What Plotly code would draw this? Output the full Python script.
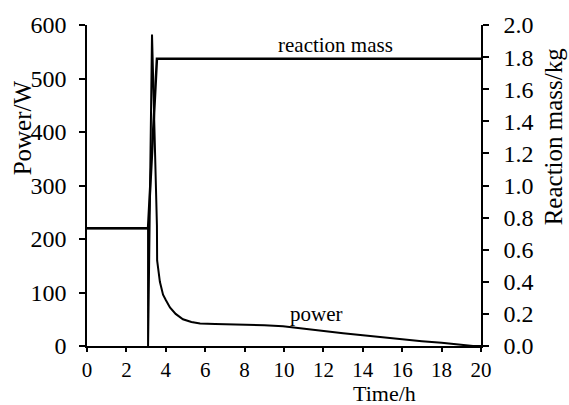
import plotly.graph_objects as go

# Power trace (W) vs time (h)
power_t = [0, 3.1, 3.1, 3.3, 3.55, 3.56, 3.7, 3.86, 4.0, 4.21, 4.5, 4.87, 5.3, 5.74, 6.5, 8.0, 9.0, 9.95, 11.0, 12.0, 13.0, 14.0, 15.0, 16.0, 17.0, 18.0, 19.0, 19.6, 20.0]
power_w = [220, 220, 0, 582, 225, 160, 120, 96, 86, 72, 60, 50, 45, 42, 41, 40, 39, 37, 33, 28, 24, 20, 16, 13, 9, 6, 2, 0, 0]

# Reaction mass (kg) vs time (h)
mass_t = [0, 3.1, 3.55, 20]
mass_kg = [0.733, 0.733, 1.79, 1.79]

x_ticks = list(range(0, 21, 2))
y1_ticks = list(range(0, 601, 100))
y2_ticks = [round(0.2 * i, 1) for i in range(11)]

font_family = "Liberation Serif"

fig = go.Figure()
fig.add_trace(go.Scatter(x=power_t, y=power_w, mode="lines",
                         line=dict(color="black", width=2), yaxis="y", showlegend=False))
fig.add_trace(go.Scatter(x=mass_t, y=mass_kg, mode="lines",
                         line=dict(color="black", width=2.5), yaxis="y2", showlegend=False))

L, R, T, B = 87, 88, 23, 59
W, H = 569, 405
pw, ph = W - L - R, H - T - B

def px(x):
    return (x - L) / pw

def py(y):
    return (H - B - y) / ph

axis_common = dict(showline=True, linecolor="black", linewidth=1.5, ticks="outside",
                   tickwidth=1.5, tickcolor="black", showgrid=False, zeroline=False)

def tickfont(size):
    return dict(family=font_family, size=size, color="black")

def label(text, x, y, size, angle=0):
    return dict(text=text, x=px(x), y=py(y), xref="paper", yref="paper",
                xanchor="center", yanchor="middle", showarrow=False,
                textangle=angle, font=dict(size=size))

fig.update_layout(
    width=W, height=H,
    margin=dict(l=L, r=R, t=T, b=B),
    paper_bgcolor="white", plot_bgcolor="white",
    font=dict(family=font_family, size=24, color="black"),
    xaxis=dict(range=[0, 20], tickvals=x_ticks, ticktext=[str(v) for v in x_ticks],
               tickfont=tickfont(21), ticklen=4, **axis_common),
    yaxis=dict(range=[0, 600], tickvals=y1_ticks, ticktext=[str(v) for v in y1_ticks],
               tickfont=tickfont(24), ticklen=6, ticklabelstandoff=8, **axis_common),
    yaxis2=dict(range=[0, 2.0], tickvals=y2_ticks, ticktext=[f"{v:.1f}" for v in y2_ticks],
                tickfont=tickfont(24), ticklen=6, overlaying="y", side="right",
                ticklabelstandoff=10, **axis_common),
    annotations=[
        label("Time/h", 384, 394, 22),
        label("Power/W", 22, 127, 25, -90),
        label("Reaction mass/kg", 553, 135, 25, -90),
        label("reaction mass", 335, 43, 21),
        label("power", 316, 314, 21),
    ],
)

fig.write_html("out.html", config={"displayModeBar": False},
               post_script="document.body.style.margin='0';")
